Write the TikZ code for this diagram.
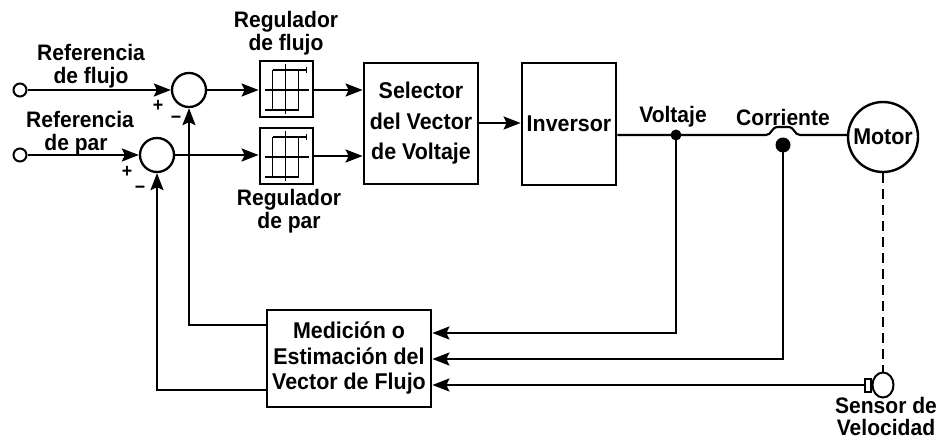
\documentclass[tikz,border=0pt]{standalone}
\usepackage{fontspec}
\setmainfont{Liberation Sans}[FakeStretch=0.94]
\usetikzlibrary{arrows.meta,shapes.geometric}
\begin{document}
\begin{tikzpicture}[x=1pt,y=-1pt,
  lw/.style={line width=2.1pt},
  arr/.style={lw,-{Stealth[length=17pt,width=13pt,inset=3pt]}},
  blk/.style={draw,line width=2.8pt,inner sep=0pt,align=center},
  sumc/.style={draw,circle,line width=2.3pt,minimum size=34pt,inner sep=0pt},
  port/.style={draw,circle,line width=2pt,minimum size=13pt,inner sep=0pt},
  lbl/.style={font=\bfseries\fontsize{22.4}{23}\selectfont,align=center,inner sep=0pt},
  sgn/.style={font=\bfseries\fontsize{19}{18}\selectfont,inner sep=0pt},
  dotc/.style={fill,circle,inner sep=0pt}
]
\useasboundingbox (0,0) rectangle (940,441);

% ports and summing junctions
\node[port] (inF) at (20,90) {};
\node[port] (inP) at (20,155) {};
\node[sumc] (sF) at (189,90) {};
\node[sumc] (sP) at (157,155) {};

% regulators
\node[blk,minimum width=53pt,minimum height=56pt] (rF) at (286.5,89) {};
\node[blk,minimum width=53pt,minimum height=56pt] (rP) at (286.5,156) {};
\foreach \n in {rF,rP}{
  \begin{scope}[shift={(\n.center)},line width=1.8pt]
    \draw (-14,-19) -- (-14,21);
    \draw (12,-19) -- (12,21);
    \draw (-14,-19) -- (20,-19);
    \draw (20,-22) -- (20,-16);
    \draw (-22,21) -- (12,21);
    \draw (-22,1) -- (22,1);
    \draw (-1,-25) -- (-1,25);
  \end{scope}
}

% selector, inverter, motor, estimator
\node[blk,minimum width=114pt,minimum height=121pt,font=\bfseries\fontsize{22.8}{30.5}\selectfont] (sel) at (421,123.5) {Selector\\del Vector\\de Voltaje};
\node[blk,minimum width=94pt,minimum height=122pt,font=\bfseries\fontsize{22.8}{25}\selectfont] (inv) at (569,124) {Inversor};
\node[sumc,minimum size=70pt,line width=2.4pt,font=\bfseries\fontsize{22.8}{25}\selectfont] (mot) at (883,137) {Motor};
\node[blk,minimum width=164pt,minimum height=97pt,font=\bfseries\fontsize{22.8}{25.5}\selectfont] (med) at (349,358.5) {Medición o\\Estimación del\\Vector de Flujo};

% measurement points and sensor
\node[dotc,minimum size=11pt] (vdot) at (676,135) {};
\node[dotc,minimum size=15pt] (cdot) at (783,145) {};
\node[draw,ellipse,line width=2pt,minimum width=21pt,minimum height=25pt,inner sep=0pt] (sen) at (883,385) {};
\node[draw,line width=2pt,minimum width=6pt,minimum height=13pt,inner sep=0pt,anchor=east] (senb) at (sen.west) {};

% labels
\node[lbl] (tRF) at (91,66) {Referencia\\de flujo};
\node[lbl] (tRP) at (80,133) {Referencia\\de par\hspace*{8pt}};
\node[lbl] (tGF) at (286,33.5) {Regulador\\de flujo};
\node[lbl] (tGP) at (289,211) {Regulador\\de par};
\node[lbl] (tV) at (673,117) {Voltaje};
\node[lbl] (tC) at (783,117) {Corriente};
\node[lbl,font=\bfseries\fontsize{22.4}{22}\selectfont] (tS) at (886,416) {Sensor de\\Velocidad};
\node[sgn] (p1) at (158,106) {+};
\node[sgn] (m1) at (176,120) {−};
\node[sgn] (p2) at (127,172) {+};
\node[sgn] (m2) at (140,190) {−};

% forward path
\draw[arr] (inF) -- (sF);
\draw[arr] (inP) -- (sP);
\draw[arr] (sF) -- (rF.west |- sF);
\draw[arr] (sP) -- (rP.west |- sP);
\draw[arr] (rF.east |- 0,90) -- (sel.west |- 0,90);
\draw[arr] (rP.east |- 0,156) -- (sel.west |- 0,156);
\draw[arr] (sel.east |- 0,123) -- (inv.west |- 0,123);

% power line with hump over the current sensor
\coordinate (h1) at (766,135);
\coordinate (h2) at (800,135);
\draw[lw] (inv.east |- 0,135) -- (h1) .. controls (772,135) and (771,127) .. (778,127) -- (788,127) .. controls (795,127) and (794,135) .. (h2) -- (mot.west |- 0,135);

% feedback to estimator
\draw[arr] (vdot.center) |- (med.east |- 0,333);
\draw[arr] (cdot.center) |- (med.east |- 0,359);
\draw[arr] (senb.west) -- (med.east |- senb.west);
\draw[lw,dashed,dash pattern=on 10pt off 6pt] (mot.south) -- (sen.north);

% estimator outputs to summing junctions
\draw[arr] (med.west |- 0,325) -| (sF.south);
\draw[arr] (med.west |- 0,390) -| (sP.south);
\end{tikzpicture}
\end{document}
